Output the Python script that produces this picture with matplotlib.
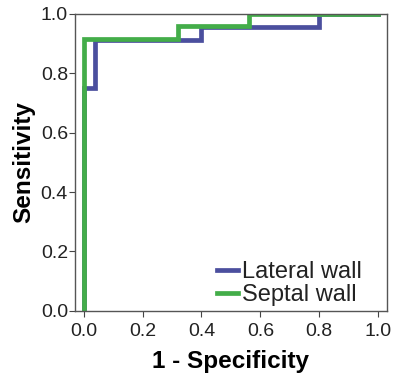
import matplotlib.pyplot as plt

plt.rcParams['font.family'] = ['Liberation Sans', 'DejaVu Sans']

# ROC step points (1 - specificity, sensitivity)
lateral_fpr = [0.0, 0.0, 0.04, 0.04, 0.40, 0.40, 0.80, 0.80, 1.0]
lateral_tpr = [0.0, 0.75, 0.75, 0.912, 0.912, 0.955, 0.955, 1.0, 1.0]
septal_fpr = [0.0, 0.0, 0.32, 0.32, 0.56, 0.56, 1.0]
septal_tpr = [0.0, 0.917, 0.917, 0.958, 0.958, 1.0, 1.0]

ticks = [0.0, 0.2, 0.4, 0.6, 0.8, 1.0]
tick_labels = ['0.0', '0.2', '0.4', '0.6', '0.8', '1.0']

fig = plt.figure(figsize=(3.94, 3.75), dpi=100)
ax = fig.add_axes([0.190, 0.171, 0.792, 0.792])

ax.plot(lateral_fpr, lateral_tpr, color='#4b4f9e', lw=3.4,
        solid_joinstyle='miter', label='Lateral wall')
ax.plot(septal_fpr, septal_tpr, color='#43ad49', lw=3.4,
        solid_joinstyle='miter', label='Septal wall')

ax.set_xlim(-0.03, 1.03)
ax.set_ylim(0, 1)
ax.set_xticks(ticks)
ax.set_xticklabels(tick_labels)
ax.set_yticks(ticks)
ax.set_yticklabels(tick_labels)
ax.tick_params(direction='out', length=4, width=0.8, color='#444444',
               labelsize=14, labelcolor='#222222', pad=1)
ax.tick_params(axis='x', pad=5)

for s in ax.spines.values():
    s.set_color('#555555')
    s.set_linewidth(1.0)

ax.set_xlabel('1 - Specificity', fontsize=17.5, fontweight='bold', labelpad=7)
ax.set_ylabel('Sensitivity', fontsize=17.5, fontweight='bold', labelpad=4)

leg = ax.legend(loc='lower right', bbox_to_anchor=(0.935, 0.0), frameon=False,
                fontsize=17, handlelength=0.9, handletextpad=0.15,
                labelspacing=0.05, borderaxespad=0.0, borderpad=0.2)
for t in leg.get_texts():
    t.set_color('#222222')

fig.savefig('out.png', dpi=100)
